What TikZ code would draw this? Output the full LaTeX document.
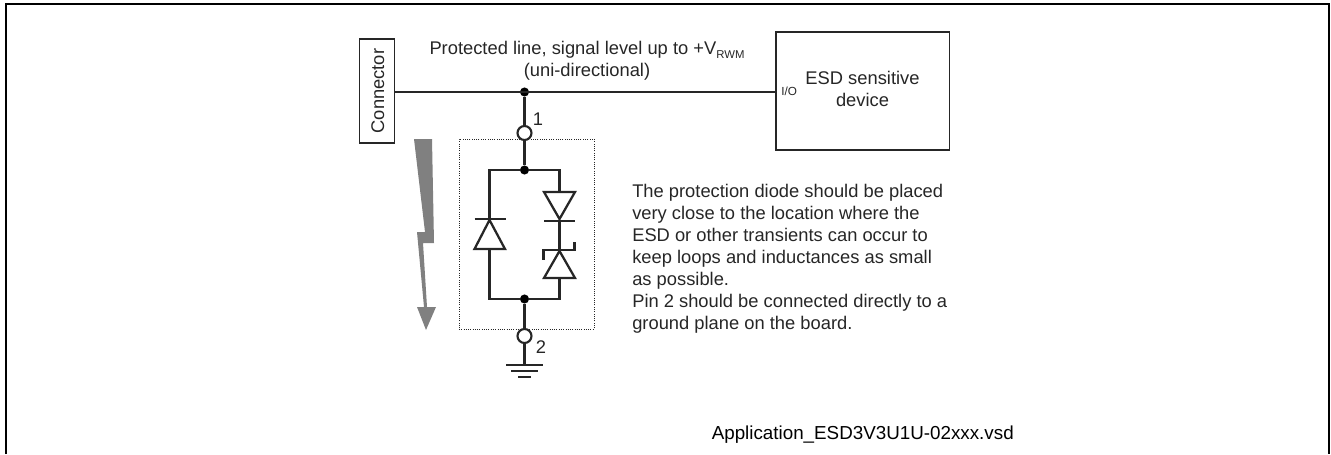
\documentclass[tikz,border=0pt]{standalone}
\usepackage{fontspec}
\setmainfont{Liberation Sans}
\tikzset{
  x=0.75pt,y=-0.75pt,
  wire/.style={line width=2pt,black!85},
  thin box/.style={draw=black!85,line width=1.1pt,fill=white},
  lbl/.style={font=\fontsize{13.75pt}{16.4pt}\selectfont,text=black!85,inner sep=0pt},
  dotnode/.style={circle,fill=black,inner sep=0pt,minimum size=6.8pt},
  pin/.style={circle,draw=black!85,line width=1.6pt,fill=white,inner sep=0pt,minimum size=10.5pt},
  sym/.style={line width=1.7pt,black!85,line join=miter},
}
\begin{document}
\begin{tikzpicture}
\useasboundingbox (0,0) rectangle (1331,454);
\draw[line width=1.5pt,black] (5.7,454) -- (5.7,3.5) -- (1329,3.5) -- (1329,454);
% boxes
\node[thin box,minimum width=26.25pt,minimum height=77.8pt,inner sep=0pt] (conn) at (376.8,91) {};
\node[lbl,rotate=90,anchor=base] (connt) at (384,91) {Connector};
\node[thin box,minimum width=130pt,minimum height=88.5pt,inner sep=0pt] (dev) at (862.7,91) {};
\node[lbl,align=center,anchor=base] (devt) at (862.5,106.7) {ESD sensitive\\device};
\node[lbl,anchor=base west,font=\fontsize{8.8pt}{9pt}\selectfont] (io) at (781,95) {I/O};
% dotted package
\node[draw=black!85,densely dotted,line width=0.7pt,minimum width=101.3pt,minimum height=142.5pt,inner sep=0pt] (pkg) at (526.5,234) {};
% junctions and pins
\coordinate (devin) at (dev.west |- 0,92);
\coordinate (connout) at (conn.east |- 0,92);
\node[dotnode] (j0) at (524.5,92) {};
\node[pin] (p1) at (524.5,133) {};
\node[dotnode] (j1) at (524.5,170) {};
\node[dotnode] (j2) at (524.5,299) {};
\node[pin] (p2) at (524.5,336) {};
\coordinate (gnd) at (524.5,365);
\draw[wire] (connout) -- (devin);
\draw[wire] (j0) -- (p1);
\draw[wire] (p1) -- (j1);
\draw[wire] (j2) -- (p2);
\draw[wire] (p2) -- (gnd);
% branches
\coordinate (ltop) at (489.5,170);
\coordinate (lbot) at (489.5,299);
\coordinate (rtop) at (559.5,170);
\coordinate (rbot) at (559.5,299);
\coordinate (la) at (489.5,219);
\coordinate (lb) at (489.5,249);
\coordinate (ra) at (559.5,192);
\coordinate (rb) at (559.5,278);
\draw[wire] (la) -- (ltop) -- (j1) -- (rtop) -- (ra);
\draw[wire] (lb) -- (lbot) -- (j2) -- (rbot) -- (rb);
\draw[wire] (559.5,220) -- (559.5,251);
% diodes
\draw[sym] (489.5,220) -- (505,249) -- (474.5,249) -- cycle;
\draw[sym] (474.5,219) -- (505.5,219);
\draw[sym] (544,192) -- (575,192) -- (559.5,219) -- cycle;
\draw[sym] (544,221) -- (575,221);
\draw[sym] (559.5,251) -- (575,278) -- (544,278) -- cycle;
\draw[sym] (543.5,259.5) -- (543.5,250) -- (574.5,250) -- (574.5,241.5);
% ground
\draw[sym] (506,365) -- (543,365);
\draw[sym] (511,371) -- (538,371);
\draw[sym] (518,377) -- (531,377);
% lightning
\fill[black!50] (414,139) -- (432,139) -- (434,243) -- (423,243) -- (427,307) -- (436,307) -- (426,330) -- (417,307) -- (424,307) -- (417,232) -- (425,232) -- cycle;
% labels
\node[lbl,anchor=base] (t1) at (538,125) {1};
\node[lbl,anchor=base] (t2) at (541,353) {2};
\node[lbl,align=center,anchor=base] (title) at (587,76.7) {Protected line, signal level up to +V\raisebox{-2.5pt}{\fontsize{8.5pt}{9pt}\selectfont RWM}\\(uni-directional)};
\node[lbl,align=left,anchor=base west] (body) at (632,329) {The protection diode should be placed\\very close to the location where the\\ESD or other transients can occur to\\keep loops and inductances as small\\as possible.\\Pin 2 should be connected directly to a\\ground plane on the board.};
\node[lbl,anchor=base west,font=\fontsize{14.1pt}{16.4pt}\selectfont,text=black] (file) at (711.5,439) {Application\_ESD3V3U1U-02xxx.vsd};
\end{tikzpicture}
\end{document}
